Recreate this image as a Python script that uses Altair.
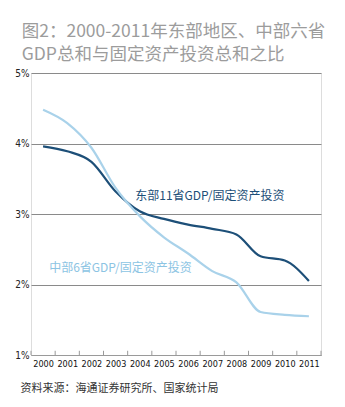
import altair as alt
import pandas as pd

years = [2000, 2001, 2002, 2003, 2004, 2005, 2006, 2007, 2008, 2009, 2010, 2011]
east = [3.96, 3.89, 3.74, 3.32, 3.04, 2.93, 2.85, 2.79, 2.71, 2.40, 2.34, 2.05]
central = [4.48, 4.29, 3.94, 3.37, 2.97, 2.67, 2.44, 2.19, 2.03, 1.61, 1.57, 1.55]
series_names = ["东部11省GDP/固定资产投资", "中部6省GDP/固定资产投资"]
series_colors = ["#1d4f78", "#a9d2ea"]
label_colors = ["#1d4f78", "#8cc4e3"]
label_x = [2006.9, 2003.2]
label_y = [3.25, 2.23]
y_ticks = [1, 2, 3, 4, 5]
title_lines = ["图2：2000-2011年东部地区、中部六省", "GDP总和与固定资产投资总和之比"]
source = "资料来源：海通证券研究所、国家统计局"

df = pd.DataFrame({
    "year": years * 2,
    "value": east + central,
    "series": [series_names[0]] * len(years) + [series_names[1]] * len(years),
})
labels = pd.DataFrame({"x": label_x, "y": label_y, "text": series_names, "series": series_names})
tick_pos = [y - 0.5 for y in years] + [years[-1] + 0.5]
ticks = pd.DataFrame({"x": tick_pos, "y0": [1.0] * len(tick_pos), "y1": [1.06] * len(tick_pos)})

narrow = "Liberation Sans Narrow, DejaVu Sans Condensed, Liberation Sans, sans-serif"
cjk = "Noto Sans CJK SC"

xscale = alt.Scale(domain=[years[0] - 0.5, years[-1] + 0.5], nice=False, zero=False)
yscale = alt.Scale(domain=[1, 5], nice=False, zero=False)
color = alt.Color("series:N", scale=alt.Scale(domain=series_names, range=series_colors), legend=None)

x_axis = alt.Axis(
    values=years, format="d", ticks=False, grid=False, domainColor="#9a9a9a",
    labelOverlap=False, labelFlush=False, labelBound=False,
    labelFont=narrow, labelFontSize=9, labelColor="#111", labelPadding=4,
    title=source, titleFont=cjk, titleFontSize=11, titleFontWeight="normal",
    titleColor="#333", titleAnchor="start", titleAlign="left", titleX=-11, titleY=27)
y_axis = alt.Axis(
    values=y_ticks, labelExpr="datum.value + '%'", ticks=False, domain=False,
    gridColor="#8a8a8a", gridWidth=1, labelFont=narrow, labelFontSize=10,
    labelColor="#222", labelPadding=2, title=None)

lines = alt.Chart(df).mark_line(interpolate="monotone", strokeWidth=2.2).encode(
    x=alt.X("year:Q", scale=xscale, axis=x_axis),
    y=alt.Y("value:Q", scale=yscale, axis=y_axis),
    color=color,
)

tick_layer = alt.Chart(ticks).mark_rule(color="#9a9a9a", strokeWidth=1).encode(
    x=alt.X("x:Q", scale=xscale, axis=x_axis),
    y=alt.Y("y0:Q", scale=yscale, axis=y_axis), y2="y1:Q")

text_layer = alt.Chart(labels).mark_text(font=cjk, fontSize=12, align="center", baseline="middle").encode(
    x=alt.X("x:Q", scale=xscale, axis=x_axis),
    y=alt.Y("y:Q", scale=yscale, axis=y_axis),
    text="text:N",
    color=alt.Color("series:N", scale=alt.Scale(domain=series_names, range=label_colors), legend=None),
)

chart = alt.layer(lines, tick_layer, text_layer).resolve_scale(color="independent").properties(
    width=290, height=282,
    padding={"left": 31, "top": 73, "right": 24, "bottom": 52},
    autosize=alt.AutoSizeParams(type="none"),
    title=alt.TitleParams(text=title_lines, font=cjk, fontSize=17.5, fontWeight="normal",
                          color="#9c9c9c", anchor="start", dx=7, offset=5, lineHeight=23),
).configure_view(stroke=None).configure_axisX(labelOverlap=False).configure(background="white")

chart.save("out.html", embed_options={"renderer": "svg", "actions": False})
